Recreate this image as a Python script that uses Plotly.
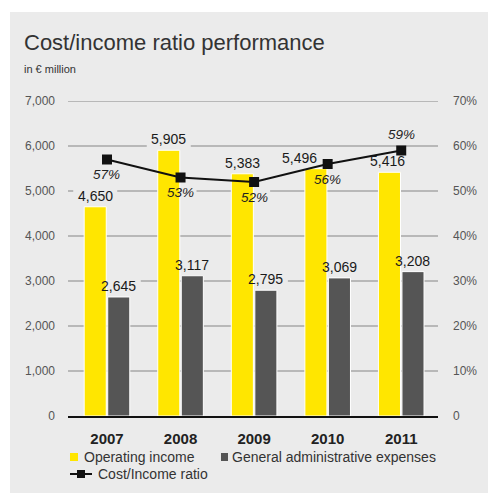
import plotly.graph_objects as go

# ---- data -------------------------------------------------------------
years = [2007, 2008, 2009, 2010, 2011]
year_labels = ["2007", "2008", "2009", "2010", "2011"]
operating_income = [4650, 5905, 5383, 5496, 5416]
admin_expenses = [2645, 3117, 2795, 3069, 3208]
cost_income_ratio = [57, 53, 52, 56, 59]

left_ticks = [0, 1000, 2000, 3000, 4000, 5000, 6000, 7000]
left_tick_text = ["0", "1,000", "2,000", "3,000", "4,000", "5,000", "6,000", "7,000"]
right_ticks = [0, 10, 20, 30, 40, 50, 60, 70]
right_tick_text = ["0", "10%", "20%", "30%", "40%", "50%", "60%", "70%"]

series_names = ["Operating income", "General administrative expenses", "Cost/Income ratio"]

# ---- styling ----------------------------------------------------------
W, H = 488, 495
ML, MR, MT, MB = 68, 50, 101, 79
PW, PH = W - ML - MR, H - MT - MB
PANEL = "#ebebeb"
YELLOW = "#ffe600"
DARK = "#555555"
LINE = "#111111"
GRID = "#b8b8b8"
TEXT = "#333333"
FONT = "Liberation Sans, Arial, sans-serif"

BAR_W = 0.30
Y_OFF = -0.31
G_OFF = 0.01

# per-label nudges (pixels) for the value labels
inc_dx = [0, 0, 0, -16, -2]
ratio_dy = [-15, -15, -15, -15, 16]


def px_x(px):
    return (px - ML) / PW


def px_y(py):
    return (H - MB - py) / PH


fig = go.Figure()

fig.add_trace(go.Bar(
    x=years, y=operating_income, name=series_names[0],
    width=BAR_W, offset=Y_OFF,
    marker=dict(color=YELLOW, line=dict(color="white", width=1)),
))
fig.add_trace(go.Bar(
    x=years, y=admin_expenses, name=series_names[1],
    width=BAR_W, offset=G_OFF,
    marker=dict(color=DARK, line=dict(color="white", width=1)),
))
fig.add_trace(go.Scatter(
    x=years, y=cost_income_ratio, name=series_names[2], yaxis="y2",
    mode="lines+markers",
    line=dict(color=LINE, width=2),
    marker=dict(symbol="square", size=10, color=LINE),
))

shapes = [
    # background panel
    dict(type="rect", xref="paper", yref="paper", layer="below",
         x0=px_x(10), x1=px_x(W + 5), y0=px_y(493), y1=px_y(12),
         fillcolor=PANEL, line=dict(width=0)),
]
# horizontal gridlines (drawn under the bars)
for t in left_ticks[1:]:
    shapes.append(dict(type="line", xref="paper", yref="y", layer="below",
                       x0=0, x1=1, y0=t, y1=t, line=dict(color=GRID, width=2)))

annotations = []
label_font = dict(family=FONT, size=14, color="#1a1a1a")
pct_font = dict(family=FONT, size=13.5, color="#222222")


def add_label(xc, yv, text, dx, dy, yref, font, half_w):
    # patch that interrupts the gridlines but stays under the bars
    shapes.append(dict(
        type="rect", layer="below", xref="x", yref=yref,
        xsizemode="pixel", ysizemode="pixel", xanchor=xc, yanchor=yv,
        x0=dx - half_w, x1=dx + half_w, y0=dy - 8, y1=dy + 8,
        fillcolor=PANEL, line=dict(width=0),
    ))
    annotations.append(dict(
        x=xc, y=yv, xref="x", yref=yref, text=text, showarrow=False,
        xshift=dx, yshift=dy, font=font, xanchor="center", yanchor="middle",
    ))


for i, yr in enumerate(years):
    xc_inc = yr + Y_OFF + BAR_W / 2
    xc_exp = yr + G_OFF + BAR_W / 2
    add_label(xc_inc, operating_income[i], f"{operating_income[i]:,}",
              inc_dx[i], 11, "y", label_font, 22)
    add_label(xc_exp, admin_expenses[i], f"{admin_expenses[i]:,}",
              0, 11, "y", label_font, 22)
    add_label(yr, cost_income_ratio[i], f"<i>{cost_income_ratio[i]}%</i>",
              0, ratio_dy[i], "y2", pct_font, 16)

# title and unit line
annotations.append(dict(
    xref="paper", yref="paper", x=px_x(22), y=px_y(43), xanchor="left", yanchor="middle",
    text="Cost/income ratio performance", showarrow=False,
    font=dict(family=FONT, size=22, color=TEXT),
))
annotations.append(dict(
    xref="paper", yref="paper", x=px_x(22), y=px_y(69), xanchor="left", yanchor="middle",
    text="in € million", showarrow=False,
    font=dict(family=FONT, size=11, color=TEXT),
))

# legend: swatches and labels under the axis
LEG_Y1, LEG_Y2 = 457, 474
shapes += [
    dict(type="rect", xref="paper", yref="paper", x0=px_x(70), x1=px_x(78),
         y0=px_y(LEG_Y1 + 4), y1=px_y(LEG_Y1 - 4), fillcolor=YELLOW, line=dict(width=0)),
    dict(type="rect", xref="paper", yref="paper", x0=px_x(221), x1=px_x(228),
         y0=px_y(LEG_Y1 + 4), y1=px_y(LEG_Y1 - 4), fillcolor=DARK, line=dict(width=0)),
    dict(type="line", xref="paper", yref="paper", x0=px_x(70), x1=px_x(92),
         y0=px_y(LEG_Y2), y1=px_y(LEG_Y2), line=dict(color=LINE, width=2)),
    dict(type="rect", xref="paper", yref="paper", x0=px_x(77), x1=px_x(85),
         y0=px_y(LEG_Y2 + 4), y1=px_y(LEG_Y2 - 4), fillcolor=LINE, line=dict(width=0)),
]
leg_font = dict(family=FONT, size=14, color=TEXT)
for name, lx, ly in zip(series_names, [82, 230, 96], [LEG_Y1, LEG_Y1, LEG_Y2]):
    annotations.append(dict(
        xref="paper", yref="paper", x=px_x(lx), y=px_y(ly), xanchor="left",
        yanchor="middle", text=name, showarrow=False, font=leg_font,
    ))

fig.update_layout(
    width=W, height=H,
    margin=dict(l=ML, r=MR, t=MT, b=MB, pad=0, autoexpand=False),
    paper_bgcolor="white",
    plot_bgcolor="rgba(0,0,0,0)",
    font=dict(family=FONT, color=TEXT),
    showlegend=False,
    xaxis=dict(
        range=[2006.47, 2011.5], tickvals=years, ticktext=year_labels,
        tickfont=dict(family=FONT, size=15, color="#222222", weight="bold"),
        showgrid=False, zeroline=False, showline=True,
        linecolor="#111111", linewidth=2, ticks="", ticklabelstandoff=8,
    ),
    yaxis=dict(
        range=[0, 7000], tickvals=left_ticks, ticktext=left_tick_text,
        tickfont=dict(family=FONT, size=12, color="#555555"),
        showgrid=False, zeroline=False,
        ticks="", ticklabelstandoff=12,
    ),
    yaxis2=dict(
        range=[0, 70], tickvals=right_ticks, ticktext=right_tick_text,
        overlaying="y", side="right", showgrid=False, zeroline=False,
        tickfont=dict(family=FONT, size=12, color="#555555"),
        ticks="", ticklabelstandoff=14,
    ),
    shapes=shapes,
    annotations=annotations,
)

fig.write_html("out.html")
